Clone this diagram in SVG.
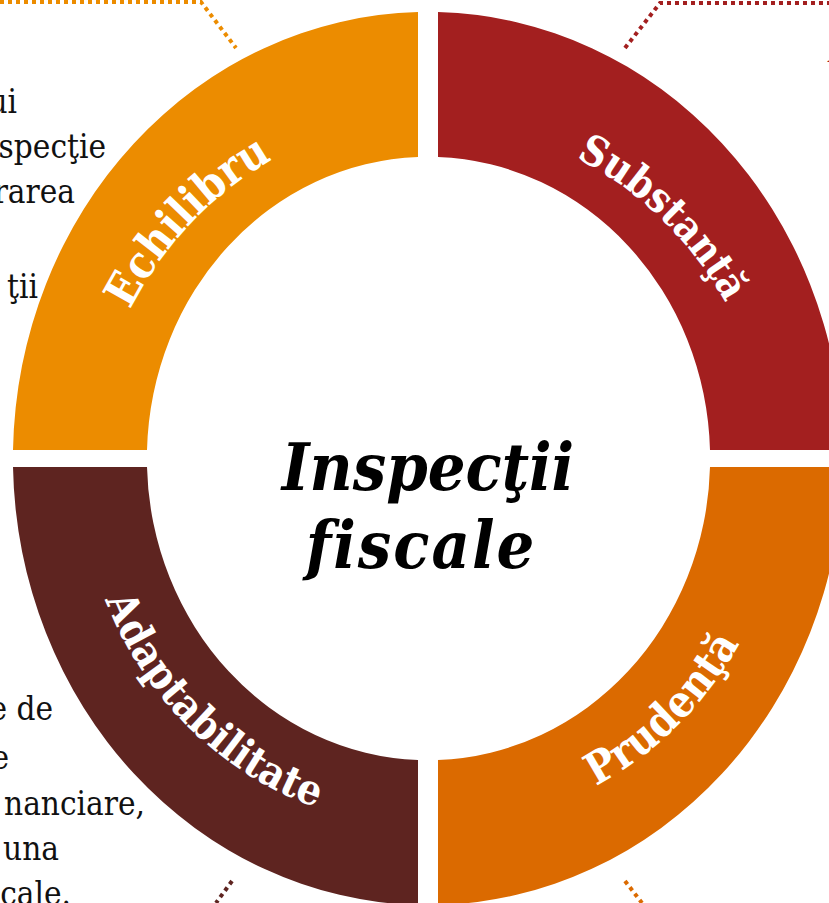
<svg xmlns="http://www.w3.org/2000/svg" width="829" height="903" viewBox="0 0 829 903">
<style>
.body{font-family:"DejaVu Serif Condensed","Liberation Serif",serif;font-size:33px;fill:#111;text-anchor:end}
.seg{font-family:"DejaVu Serif Condensed","Liberation Serif",serif;font-weight:700;fill:#fff}
.c{font-family:"DejaVu Serif Condensed","Liberation Serif",serif;font-weight:700;font-style:italic;font-size:66px;fill:#000;text-anchor:middle}
.d{fill:none;stroke-width:4;stroke-dasharray:4 4}
</style>
<defs>
<path id="pE" d="M130 310A345 372 0 0 1 306 143"/>
<path id="pS" d="M576 158A345 372 0 0 1 748 350"/>
<path id="pP" d="M596 786A345 372 0 0 0 762 595"/>
<path id="pA" d="M105 600A345 372 0 0 0 345 816"/>
</defs>
<rect width="829" height="903" fill="#fff"/>
<g id="connectors">
<path class="d" stroke="#EC8C00" d="M0 2H201L236 48"/>
<path class="d" stroke="#A31F1F" d="M625 48L660 3H829"/>
<path class="d" stroke="#5E2420" d="M232 881L216 903"/>
<path class="d" stroke="#DB6A00" d="M625 881L642 903"/>
</g>
<g id="echilibru"><path fill="#EC8C00" d="M418 12V157A281 301.500 0 0 0 147 450H13A415 447 0 0 1 418 12Z"/><text class="seg" font-size="45"><textPath href="#pE">Echilibru</textPath></text></g>
<g id="substanta"><path fill="#A31F1F" d="M438 12V157A282 301.500 0 0 1 710 450H843A415 447 0 0 0 438 12Z"/><text class="seg" font-size="41.500"><textPath href="#pS">Substanţă</textPath></text></g>
<g id="adaptabilitate"><path fill="#5E2420" d="M418 905V760A281 301.500 0 0 1 147 467H13A415 447 0 0 0 418 905Z"/><text class="seg" font-size="42.500"><textPath href="#pA">Adaptabilitate</textPath></text></g>
<g id="prudenta"><path fill="#DB6A00" d="M438 905V760A282 301.500 0 0 0 710 467H843A415 447 0 0 1 438 905Z"/><text class="seg" font-size="44"><textPath href="#pP">Prudenţă</textPath></text></g>
<g id="center"><text class="c" x="428" y="490">Inspecţii</text><text class="c" x="421" y="568" letter-spacing="2">fiscale</text></g>
<g id="left-text"><text class="body" x="17" y="113">ui</text><text class="body" x="106" y="158">specţie</text><text class="body" x="75" y="203">rarea</text><text class="body" x="38" y="298">ţii</text><text class="body" x="53" y="720">e de</text><text class="body" x="9" y="769">e</text><text class="body" x="145" y="815">nanciare,</text><text class="body" x="59" y="860">una</text><text class="body" x="71" y="905">cale.</text></g>
<text id="right-fragment" x="829" y="62" font-family="Liberation Serif,serif" font-weight="700" font-style="italic" font-size="30" fill="#A31F1F">A</text>
</svg>
